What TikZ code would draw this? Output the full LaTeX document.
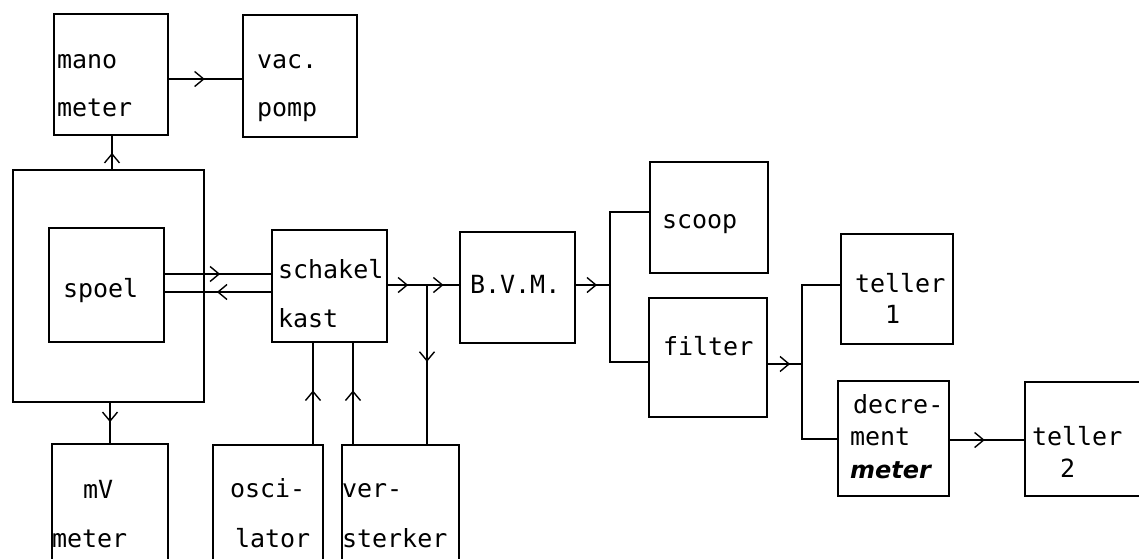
\documentclass[tikz,border=0pt]{standalone}
\usepackage{fontspec}
\newfontfamily\typefont{DejaVu Sans Mono}
\newfontfamily\handfont{DejaVu Sans}
\usetikzlibrary{arrows.meta,decorations.markings}
\tikzset{
  box/.style={draw, line width=1.8pt, inner sep=0pt, outer sep=0pt, anchor=north west},
  wire/.style={line width=1.2pt},
  lbl/.style={anchor=base west, inner sep=0pt, outer sep=0pt, font=\typefont\fontsize{25}{30}\selectfont},
  midarr/.style={postaction={decorate}, decoration={markings,
    mark=at position #1 with {\arrow{Straight Barb[length=9pt,width=15pt,line width=1.4pt]}}}}
}
\begin{document}
\begin{tikzpicture}[x=1pt,y=-1pt]
\useasboundingbox (0,0) rectangle (1139,558);
\clip (0,0) rectangle (1139,558);
% boxes
\node[box, minimum width=114pt, minimum height=121pt] (mano) at (54,14) {};
\node[box, minimum width=114pt, minimum height=122pt] (vac) at (243,15) {};
\node[box, minimum width=191pt, minimum height=232pt] (outer) at (13,170) {};
\node[box, minimum width=115pt, minimum height=114pt] (spoel) at (49,228) {};
\node[box, minimum width=115pt, minimum height=112pt] (schakel) at (272,230) {};
\node[box, minimum width=115pt, minimum height=111pt] (bvm) at (460,232) {};
\node[box, minimum width=118pt, minimum height=111pt] (scoop) at (650,162) {};
\node[box, minimum width=118pt, minimum height=119pt] (filter) at (649,298) {};
\node[box, minimum width=112pt, minimum height=110pt] (teller1) at (841,234) {};
\node[box, minimum width=111pt, minimum height=115pt] (decr) at (838,381) {};
\node[box, minimum width=130pt, minimum height=114pt] (teller2) at (1025,382) {};
\node[box, minimum width=116pt, minimum height=130pt] (mv) at (52,444) {};
\node[box, minimum width=110pt, minimum height=130pt] (osc) at (213,445) {};
\node[box, minimum width=117pt, minimum height=130pt] (vers) at (342,445) {};
% texts
\node[lbl] (tmano) at (57,68) {mano};
\node[lbl] (tmeter1) at (57,116) {meter};
\node[lbl] (tvac) at (257,68) {vac.};
\node[lbl] (tpomp) at (257,116) {pomp};
\node[lbl] (tspoel) at (63,297) {spoel};
\node[lbl] (tschakel) at (278,278) {schakel};
\node[lbl] (tkast) at (278,327) {kast};
\node[lbl] (tbvm) at (470,293) {B.V.M.};
\node[lbl] (tscoop) at (662,228) {scoop};
\node[lbl] (tfilter) at (663,355) {filter};
\node[lbl] (tteller1) at (855,292) {teller};
\node[lbl] (tone) at (885,323) {1};
\node[lbl] (tdecre) at (853,413) {decre-};
\node[lbl] (tment) at (850,445) {ment};
\node[anchor=base west, inner sep=0pt, font=\handfont\bfseries\itshape\fontsize{24}{28}\selectfont] (tmeter2) at (850,478) {meter};
\node[lbl] (tteller2) at (1032,445) {teller};
\node[lbl] (ttwo) at (1060,477) {2};
\node[lbl] (tmv) at (83,498) {mV};
\node[lbl] (tmeter3) at (52,547) {meter};
\node[lbl] (tosci) at (230,497) {osci-};
\node[lbl] (tlator) at (235,547) {lator};
\node[lbl] (tver) at (342,497) {ver-};
\node[lbl] (tsterker) at (342,547) {sterker};
% junctions
\coordinate (j1) at (427,285);
\coordinate (j2) at (610,285);
\coordinate (j3) at (802,364);
% connectors
\draw[wire, midarr=0.49] (outer.north -| 112,0) -- (mano.south -| 112,0);
\draw[wire, midarr=0.49] (mano.east |- 0,79) -- (vac.west |- 0,79);
\draw[wire, midarr=0.52] (spoel.east |- 0,274) -- (schakel.west |- 0,274);
\draw[wire, midarr=0.51] (schakel.west |- 0,292) -- (spoel.east |- 0,292);
\draw[wire, midarr=0.48] (outer.south -| 110,0) -- (mv.north -| 110,0);
\draw[wire, midarr=0.53] (osc.north -| 313,0) -- (schakel.south -| 313,0);
\draw[wire, midarr=0.53] (vers.north -| 353,0) -- (schakel.south -| 353,0);
\draw[wire, midarr=0.53] (schakel.east |- j1) -- (j1);
\draw[wire, midarr=0.5] (j1) -- (bvm.west |- j1);
\draw[wire, midarr=0.48] (j1) -- (vers.north -| j1);
\draw[wire, midarr=0.63] (bvm.east |- j2) -- (j2);
\draw[wire] (scoop.west |- 0,212) -| (j2) |- (filter.west |- 0,362);
\draw[wire, midarr=0.66] (filter.east |- j3) -- (j3);
\draw[wire] (teller1.west |- 0,285) -| (j3) |- (decr.west |- 0,439);
\draw[wire, midarr=0.47] (decr.east |- 0,440) -- (teller2.west |- 0,440);
\end{tikzpicture}
\end{document}
